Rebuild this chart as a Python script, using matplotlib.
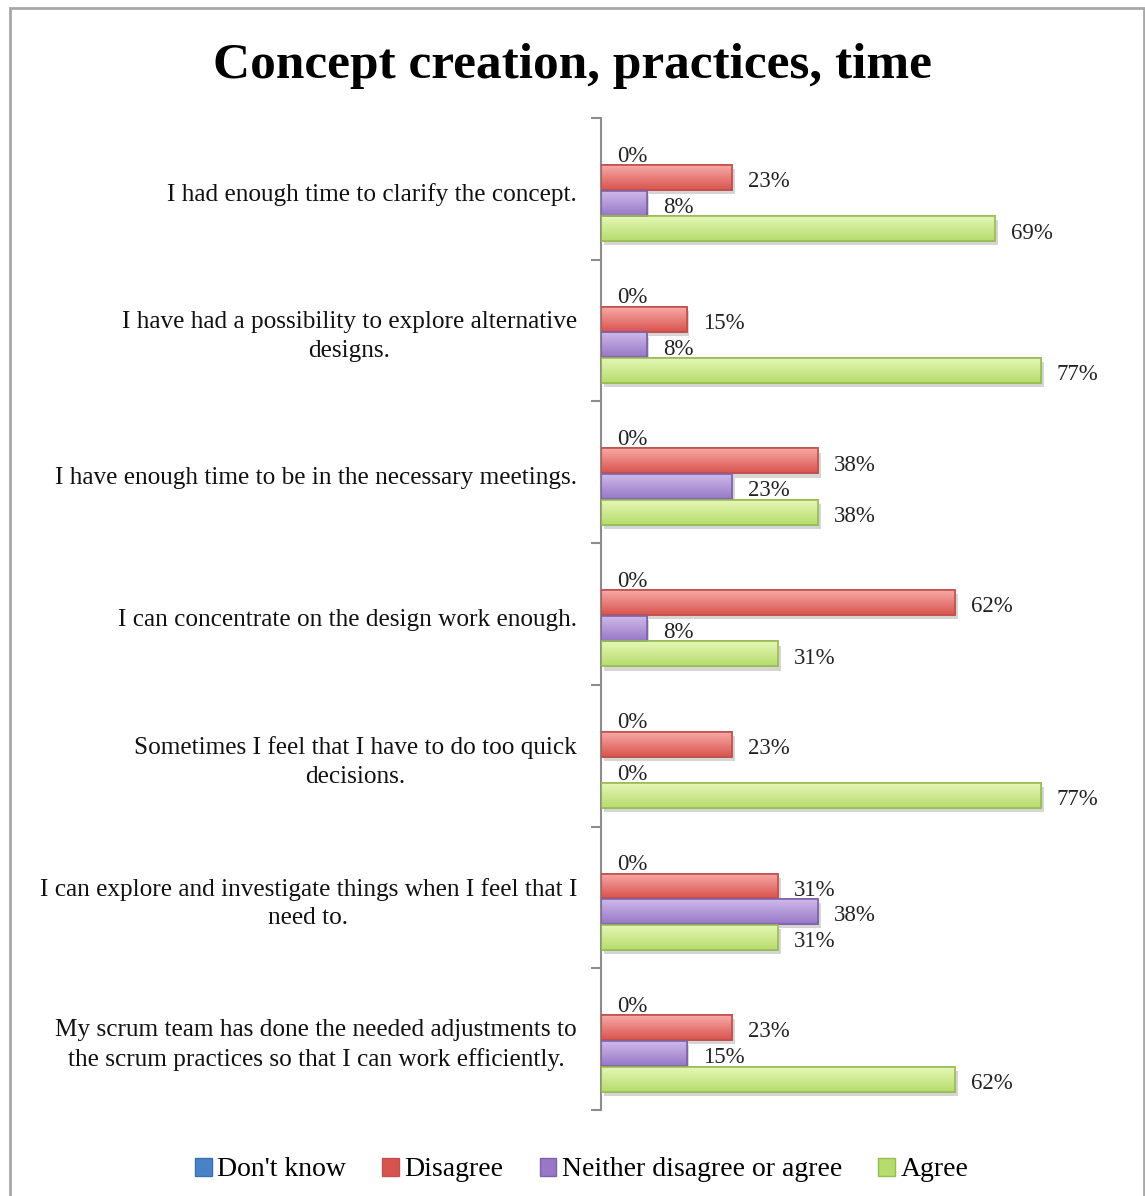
import numpy as np
import matplotlib
matplotlib.use('Agg')
import matplotlib.pyplot as plt
from matplotlib.colors import LinearSegmentedColormap
from matplotlib.patches import Rectangle, Patch
import matplotlib.patheffects as pe

plt.rcParams['font.family'] = ['Liberation Serif', 'DejaVu Serif']

statements = [
    "I had enough time to clarify the concept.",
    "I have had a possibility to explore alternative\ndesigns.",
    "I have enough time to be in the necessary meetings.",
    "I can concentrate on the design work enough.",
    "Sometimes I feel that I have to do too quick\ndecisions.",
    "I can explore and investigate things when I feel that I\nneed to.",
    "My scrum team has done the needed adjustments to\nthe scrum practices so that I can work efficiently.",
]
series_names = ["Don't know", "Disagree", "Neither disagree or agree", "Agree"]
dont_know = [0, 0, 0, 0, 0, 0, 0]
disagree = [23, 15, 38, 62, 23, 31, 23]
neither = [8, 8, 23, 8, 0, 38, 15]
agree = [69, 77, 38, 31, 77, 31, 62]

# (top colour, bottom colour, edge colour) for each series
styles = [
    ('#9cc3ee', '#4a82c8', '#3d6fb0'),
    ('#f7aaa7', '#d9534e', '#c0504d'),
    ('#cdb9ea', '#9878c6', '#7e62a8'),
    ('#e6f7b6', '#b5dc6c', '#98bc55'),
]

fig = plt.figure(figsize=(11.45, 11.96), dpi=100)
ax = fig.add_axes([601 / 1145, 86 / 1196, 514 / 1145, 992 / 1196])

y = np.arange(len(statements))
bar_h = 0.176
step = 0.181
all_values = [dont_know, disagree, neither, agree]

for k, vals in enumerate(all_values):
    top, bottom, edge = styles[k]
    cmap = LinearSegmentedColormap.from_list('g%d' % k, [top, bottom])
    offs = (k - 1.5) * step + 0.01
    bars = ax.barh(y + offs, vals, height=bar_h, color=bottom, edgecolor=edge,
                   linewidth=1.2, zorder=2)
    for b, v, yy in zip(bars, vals, y + offs):
        if v > 0:
            b.set_path_effects([pe.SimplePatchShadow(offset=(2, -3), shadow_rgbFace='#888888', alpha=0.35),
                                pe.Normal()])
            grad = np.linspace(0, 1, 64).reshape(-1, 1)
            im = ax.imshow(grad, cmap=cmap, aspect='auto', origin='upper',
                           extent=(0, v, yy + bar_h / 2, yy - bar_h / 2), zorder=2.5)
            im.set_clip_path(b)
            ax.add_patch(Rectangle((0, yy - bar_h / 2), v, bar_h, fill=False,
                                   edgecolor=edge, linewidth=1.2, zorder=3))
        ax.text(v + 2.8, yy + 0.03, '%d%%' % v, ha='left', va='center',
                fontsize=16.5, color='#222222', zorder=4)

ax.set_xlim(0, 90)
ax.set_ylim(len(statements) - 0.5, -0.5)

for s in ['top', 'right', 'bottom']:
    ax.spines[s].set_visible(False)
ax.spines['left'].set_color('#8c8c8c')
ax.spines['left'].set_linewidth(1.5)
ax.set_xticks([])
ax.set_yticks(np.arange(-0.5, len(statements)))
ax.set_yticklabels([])
ax.tick_params(axis='y', direction='out', length=7, width=1.5, color='#8c8c8c')

for i, label in enumerate(statements):
    ax.text(-4.2, i + 0.043, label, ha='right', va='center', multialignment='center',
            fontsize=18.2, color='#111111', linespacing=1.4)

fig.text(0.5, 1 - 66 / 1196, 'Concept creation, practices, time', ha='center',
         va='center', fontsize=37, fontweight='bold')

handles = [Patch(facecolor=styles[k][1], edgecolor=styles[k][2], label=series_names[k])
           for k in range(4)]
fig.legend(handles=handles, loc='center', bbox_to_anchor=(0.508, 1 - 1170 / 1196), ncol=4,
           frameon=False, fontsize=20, handlelength=0.6, handleheight=0.6,
           handletextpad=0.2, columnspacing=1.3)

# outer chart frame
fig.patches.append(Rectangle((10 / 1145, -0.1), 1134 / 1145, 1.1 - 8 / 1196,
                             transform=fig.transFigure, fill=False,
                             edgecolor='#a8a8a8', linewidth=2))

fig.savefig('out.png', dpi=100)
